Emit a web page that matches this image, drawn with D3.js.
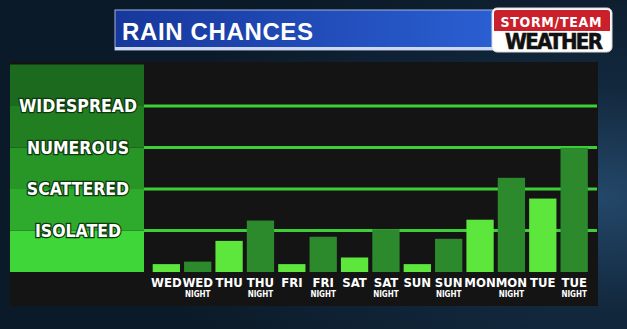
<!DOCTYPE html>
<html>
<head>
<meta charset="utf-8">
<script src="https://cdn.jsdelivr.net/npm/d3@7"></script>
<style>
  html, body { margin: 0; padding: 0; background: #0d2133; }
  svg { display: block; }
</style>
</head>
<body>
<div id="chart"></div>
<script>
// Periods shown along the bottom, one bar each.
const days = ['WED', 'WED', 'THU', 'THU', 'FRI', 'FRI', 'SAT', 'SAT', 'SUN', 'SUN', 'MON', 'MON', 'TUE', 'TUE'];
const isNight = [false, true, false, true, false, true, false, true, false, true, false, true, false, true];
// Rain chance in "levels" (1 = isolated ... 4 = widespread).
const chances = [0.19, 0.25, 0.75, 1.24, 0.19, 0.85, 0.35, 1.03, 0.19, 0.8, 1.26, 2.27, 1.77, 2.99];
const levelLabels = ['ISOLATED', 'SCATTERED', 'NUMEROUS', 'WIDESPREAD'];
const levelValues = [1, 2, 3, 4];
const title = 'RAIN CHANCES';

const W = 627, H = 329;
const svg = d3.select('#chart').append('svg')
  .attr('width', W)
  .attr('height', H);

const defs = svg.append('defs');

// Background: dark rainy window.
const bg = defs.append('radialGradient').attr('id', 'bg')
  .attr('cx', '95%').attr('cy', '60%').attr('r', '75%');
bg.append('stop').attr('offset', '0%').attr('stop-color', '#24486a');
bg.append('stop').attr('offset', '45%').attr('stop-color', '#12283d');
bg.append('stop').attr('offset', '100%').attr('stop-color', '#0b1a28');
svg.append('rect').attr('width', W).attr('height', H).attr('fill', 'url(#bg)');

// Title bar
const tb = defs.append('linearGradient').attr('id', 'titlebar');
tb.append('stop').attr('offset', '0%').attr('stop-color', '#17379b');
tb.append('stop').attr('offset', '100%').attr('stop-color', '#2a5fd2');
svg.append('rect')
  .attr('x', 115).attr('y', 10).attr('width', 382).attr('height', 40)
  .attr('fill', 'url(#titlebar)')
  .attr('stroke', '#9fb4e0').attr('stroke-width', 1);
svg.append('rect')
  .attr('x', 115).attr('y', 47).attr('width', 382).attr('height', 3)
  .attr('fill', '#cfd9ee');
svg.append('text')
  .attr('x', 122).attr('y', 40)
  .attr('font-family', 'Liberation Sans, Arial, sans-serif')
  .attr('font-weight', 'bold')
  .attr('font-size', 24)
  .attr('fill', '#ffffff')
  .attr('textLength', 191)
  .text(title);

// Station logo
const logo = svg.append('g');
logo.append('rect')
  .attr('x', 492).attr('y', 8).attr('width', 120).attr('height', 44).attr('rx', 5)
  .attr('fill', '#ffffff').attr('stroke', '#d9d9d9');
logo.append('path')
  .attr('d', 'M494,31 L494,13 Q494,10 497,10 L607,10 Q610,10 610,13 L610,31 Z')
  .attr('fill', '#c9202b');
logo.append('text')
  .attr('x', 551).attr('y', 27)
  .attr('text-anchor', 'middle')
  .attr('font-family', 'DejaVu Sans Condensed, DejaVu Sans, sans-serif')
  .attr('font-weight', 'bold').attr('font-size', 14)
  .attr('fill', '#ffffff')
  .attr('textLength', 101)
  .text('STORM/TEAM');
logo.append('text')
  .attr('x', 554).attr('y', 48.5)
  .attr('text-anchor', 'middle')
  .attr('font-family', 'DejaVu Sans Condensed, DejaVu Sans, sans-serif')
  .attr('font-weight', 'bold').attr('font-size', 22)
  .attr('fill', '#111111')
  .attr('stroke', '#111111').attr('stroke-width', 0.6)
  .attr('textLength', 98)
  .text('WEATHER');

// Chart panel
svg.append('rect')
  .attr('x', 10).attr('y', 62).attr('width', 588).attr('height', 244)
  .attr('fill', '#141414');

const x = d3.scaleBand()
  .domain(days.map((d, i) => d + (isNight[i] ? ' NIGHT' : '')))
  .range([150.5, 590])
  .paddingInner(0.13)
  .paddingOuter(0.07);

const y = d3.scaleLinear()
  .domain([0, 4])
  .range([272, 106]);

// Left legend panel: green bands, brighter toward the bottom.
const bandColors = ['#3fd63a', '#2eaa2c', '#289527', '#217f22', '#1b6a1d'];
svg.append('g')
  .selectAll('rect')
  .data(bandColors)
  .enter()
  .append('rect')
  .attr('x', 10)
  .attr('width', 134)
  .attr('y', (c, i) => y(i + 1))
  .attr('height', (c, i) => y(i) - y(i + 1))
  .attr('fill', c => c);

// Grid lines at each level
svg.append('g')
  .selectAll('line')
  .data(levelValues)
  .enter()
  .append('line')
  .attr('x1', 144).attr('x2', 597)
  .attr('y1', d => y(d)).attr('y2', d => y(d))
  .attr('stroke', '#3ccf38')
  .attr('stroke-width', 3);

// Level labels
svg.append('g')
  .selectAll('text')
  .data(levelLabels)
  .enter()
  .append('text')
  .attr('x', 78)
  .attr('y', (d, i) => y(levelValues[i]) + 6)
  .attr('text-anchor', 'middle')
  .attr('font-family', 'DejaVu Sans Condensed, DejaVu Sans, sans-serif')
  .attr('font-weight', 'bold')
  .attr('font-size', 17.5)
  .attr('fill', '#ffffff')
  .attr('stroke', '#0d3a0d')
  .attr('stroke-width', 2.5)
  .attr('paint-order', 'stroke')
  .text(d => d);

// Bars
svg.append('g')
  .selectAll('rect')
  .data(chances)
  .enter()
  .append('rect')
  .attr('x', (d, i) => x(x.domain()[i]))
  .attr('width', x.bandwidth())
  .attr('y', d => y(d))
  .attr('height', d => y(0) - y(d))
  .attr('fill', (d, i) => isNight[i] ? '#2d8a2c' : '#5de63b');

// X labels
const xl = svg.append('g');
xl.selectAll('.day')
  .data(days)
  .enter()
  .append('text')
  .attr('class', 'day')
  .attr('x', (d, i) => x(x.domain()[i]) + x.bandwidth() / 2)
  .attr('y', 287)
  .attr('text-anchor', 'middle')
  .attr('font-family', 'DejaVu Sans Condensed, DejaVu Sans, sans-serif')
  .attr('font-weight', 'bold')
  .attr('font-size', 13)
  .attr('fill', '#ffffff')
  .text(d => d);

xl.selectAll('.night')
  .data(days.map((d, i) => ({ d, i })).filter(o => isNight[o.i]))
  .enter()
  .append('text')
  .attr('class', 'night')
  .attr('x', o => x(x.domain()[o.i]) + x.bandwidth() / 2)
  .attr('y', 297)
  .attr('text-anchor', 'middle')
  .attr('font-family', 'DejaVu Sans Condensed, DejaVu Sans, sans-serif')
  .attr('font-weight', 'bold')
  .attr('font-size', 8)
  .attr('fill', '#ffffff')
  .text('NIGHT');
</script>
</body>
</html>
